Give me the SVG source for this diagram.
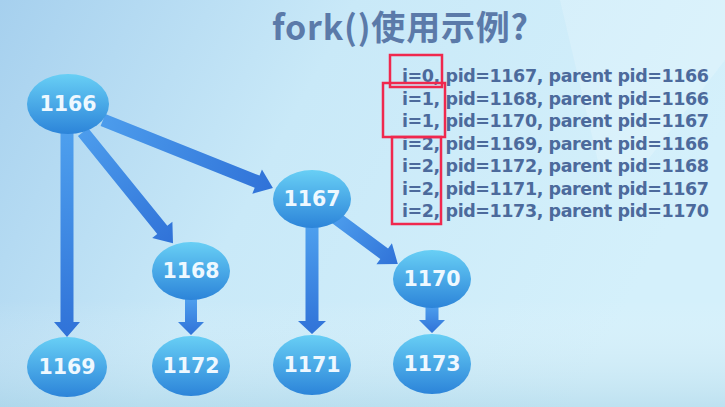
<svg xmlns="http://www.w3.org/2000/svg" width="725" height="407" viewBox="0 0 725 407">
<defs>
<linearGradient id="bg" x1="0" y1="0" x2="1" y2="0.3">
<stop offset="0" stop-color="#a6d0ee"/>
<stop offset="0.45" stop-color="#c9e9f8"/>
<stop offset="1" stop-color="#d4f0fb"/>
</linearGradient>
<linearGradient id="bgb" x1="0" y1="0" x2="0" y2="1">
<stop offset="0" stop-color="#ffffff" stop-opacity="0"/>
<stop offset="1" stop-color="#9ccbe0" stop-opacity="0.4"/>
</linearGradient>
<linearGradient id="node" x1="0" y1="0" x2="0" y2="1">
<stop offset="0" stop-color="#68cff5"/>
<stop offset="1" stop-color="#2c84d9"/>
</linearGradient>
<linearGradient id="arr" x1="0" y1="0" x2="1" y2="0">
<stop offset="0" stop-color="#4c9cec"/>
<stop offset="1" stop-color="#3072d8"/>
</linearGradient>
<linearGradient id="arrv" x1="0" y1="0" x2="0" y2="1">
<stop offset="0" stop-color="#4ea0ee"/>
<stop offset="1" stop-color="#3072d8"/>
</linearGradient>
</defs>
<style>
.nd{fill:url(#node)}
.nl{font-family:"DejaVu Sans",sans-serif;font-weight:bold;font-size:20.5px;fill:#eef8ff;text-anchor:middle}
.ln{font-family:"DejaVu Sans",sans-serif;font-weight:bold;font-size:17.5px;fill:#4c6a9c}
.rb{fill:none;stroke:#f0284e;stroke-width:2.5}
.av{fill:url(#arrv)}
.ad{fill:url(#arr)}
</style>
<rect width="725" height="407" fill="url(#bg)"/>
<polygon points="560,0 725,0 725,60 640,170 600,170" fill="#ffffff" opacity="0.18"/>
<rect x="0" y="300" width="725" height="107" fill="url(#bgb)"/>
<text x="272" y="40" font-family="'Noto Sans CJK SC',sans-serif" font-weight="bold" font-size="34" fill="#5b7aa9" textLength="256">fork()使用示例?</text>
<g id="connectors">
<polygon class="av" points="60.5,130 73.5,130 73.5,322 80,322 67,337 54,322 60.5,322"/>
<polygon class="av" points="185,298 197,298 197,322 204,322 191,335 178,322 185,322"/>
<polygon class="av" points="305.5,225 318.5,225 318.5,321 326,321 312,334 298,321 305.5,321"/>
<polygon class="av" points="425.5,305 438.5,305 438.5,320 445,320 432,333 419,320 425.5,320"/>
<g transform="translate(103,120) rotate(21.8)"><polygon class="ad" points="0,-6.5 166,-6.5 166,-13 183,0 166,13 166,6.5 0,6.5"/></g>
<g transform="translate(83,132) rotate(51)"><polygon class="ad" points="0,-6.5 126,-6.5 126,-13 143,0 126,13 126,6.5 0,6.5"/></g>
<g transform="translate(336,218) rotate(36.6)"><polygon class="ad" points="0,-6.5 60,-6.5 60,-13 77,0 60,13 60,6.5 0,6.5"/></g>
</g>
<g id="n1166"><ellipse class="nd" cx="68" cy="104" rx="41" ry="30"/><text class="nl" x="68" y="111">1166</text></g>
<g id="n1167"><ellipse class="nd" cx="312" cy="199" rx="39" ry="29"/><text class="nl" x="312" y="206">1167</text></g>
<g id="n1168"><ellipse class="nd" cx="191" cy="271" rx="39" ry="29"/><text class="nl" x="191" y="278">1168</text></g>
<g id="n1170"><ellipse class="nd" cx="432" cy="279" rx="39" ry="29"/><text class="nl" x="432" y="286">1170</text></g>
<g id="n1169"><ellipse class="nd" cx="67" cy="367" rx="40" ry="30"/><text class="nl" x="67" y="374">1169</text></g>
<g id="n1172"><ellipse class="nd" cx="191" cy="366" rx="39" ry="30"/><text class="nl" x="191" y="373">1172</text></g>
<g id="n1171"><ellipse class="nd" cx="312" cy="365" rx="39" ry="30"/><text class="nl" x="312" y="372">1171</text></g>
<g id="n1173"><ellipse class="nd" cx="432" cy="364" rx="39" ry="30"/><text class="nl" x="432" y="371">1173</text></g>
<g id="output">
<text class="ln" x="402" y="82" textLength="307">i=0, pid=1167, parent pid=1166</text>
<text class="ln" x="402" y="104.5" textLength="307">i=1, pid=1168, parent pid=1166</text>
<text class="ln" x="402" y="127" textLength="307">i=1, pid=1170, parent pid=1167</text>
<text class="ln" x="402" y="149.5" textLength="307">i=2, pid=1169, parent pid=1166</text>
<text class="ln" x="402" y="172" textLength="307">i=2, pid=1172, parent pid=1168</text>
<text class="ln" x="402" y="194.5" textLength="307">i=2, pid=1171, parent pid=1167</text>
<text class="ln" x="402" y="217" textLength="307">i=2, pid=1173, parent pid=1170</text>
</g>
<g id="highlights">
<rect class="rb" x="390" y="55" width="52" height="32"/>
<rect class="rb" x="383" y="83" width="62" height="54"/>
<rect class="rb" x="392" y="137" width="49" height="87"/>
</g>
</svg>
